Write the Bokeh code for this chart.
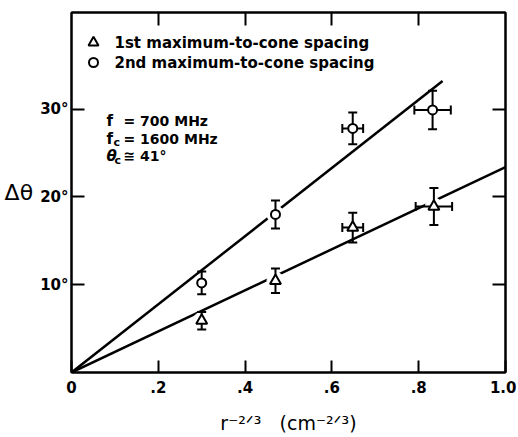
import math
from bokeh.plotting import figure
from bokeh.models import LinearAxis, FixedTicker, CustomJSTickFormatter, Label, Range1d
from bokeh.embed import file_html
from bokeh.resources import INLINE

# ---------------- data ----------------
x_ticks = [0, 0.2, 0.4, 0.6, 0.8, 1.0]
x_tick_labels = ["0", ".2", ".4", ".6", ".8", "1.0"]
y_ticks = [10, 20, 30]
y_tick_labels = ["10°", "20°", "30°"]

first_x = [0.30, 0.47, 0.648, 0.835]
first_y = [5.9, 10.45, 16.5, 18.9]
first_yerr = [1.0, 1.4, 1.7, 2.1]
first_xerr = [0.0, 0.0, 0.024, 0.042]

second_x = [0.30, 0.47, 0.648, 0.832]
second_y = [10.2, 18.0, 27.8, 29.9]
second_yerr = [1.3, 1.6, 1.8, 2.2]
second_xerr = [0.0, 0.0, 0.024, 0.042]

fit1_x = [0.0, 1.0]
fit1_y = [0.0, 23.4]
fit2_x = [0.0, 0.855]
fit2_y = [0.0, 33.2]

legend_labels = ["1st maximum-to-cone spacing", "2nd maximum-to-cone spacing"]
x_title = "r\u207b\u00b2\u141f\u00b3\u00a0\u00a0\u00a0(cm\u207b\u00b2\u141f\u00b3)"
y_title = "Δθ"

# ---------------- layout ----------------
W, H = 516, 436
MARGIN = 0
FRAME_L, FRAME_R, FRAME_T, FRAME_B = 71, 505, 12, 372   # page pixels
X0, X1, Y0, Y1 = 0.0, 1.0, 0.0, 41.0
FONT = "DejaVu Sans"


def px2x(px):
    return X0 + (px - FRAME_L) / (FRAME_R - FRAME_L) * (X1 - X0)


def px2y(py):
    return Y0 + (FRAME_B - py) / (FRAME_B - FRAME_T) * (Y1 - Y0)


p = figure(width=W, height=H, x_range=Range1d(X0, X1), y_range=Range1d(Y0, Y1),
           output_backend="svg", toolbar_location=None,
           min_border_left=FRAME_L - MARGIN, min_border_right=W + MARGIN - FRAME_R,
           min_border_top=FRAME_T - MARGIN, min_border_bottom=H + MARGIN - FRAME_B)
p.grid.visible = False
p.outline_line_color = "black"
p.outline_line_width = 2
p.background_fill_color = "white"
p.border_fill_color = "white"


def style_axis(ax, ticks, tin=13):
    ax.ticker = FixedTicker(ticks=ticks)
    ax.axis_line_width = 2
    ax.axis_line_color = "black"
    ax.major_tick_line_width = 2
    ax.major_tick_line_color = "black"
    ax.major_tick_in = tin
    ax.major_tick_out = 0
    ax.minor_tick_line_color = None
    ax.major_label_text_font = FONT
    ax.major_label_text_font_size = "15px"
    ax.major_label_text_font_style = "bold"
    ax.major_label_text_color = "black"


xa = p.xaxis[0]
style_axis(xa, x_ticks, 12)
xa.major_label_overrides = {t: s for t, s in zip(x_ticks, x_tick_labels)}
xa.major_label_standoff = 8
xa.axis_label = x_title
xa.axis_label_text_font = FONT
xa.axis_label_text_font_size = "19px"
xa.axis_label_text_font_style = "normal"
xa.axis_label_text_color = "black"
xa.axis_label_standoff = 16

ya = p.yaxis[0]
style_axis(ya, y_ticks, 13)
ya.major_label_overrides = {t: s for t, s in zip(y_ticks, y_tick_labels)}
ya.major_label_standoff = 3
ya.axis_label = y_title
ya.axis_label_orientation = "horizontal"
ya.axis_label_text_font = FONT
ya.axis_label_text_font_size = "22px"
ya.axis_label_text_font_style = "normal"
ya.axis_label_text_color = "black"
ya.axis_label_standoff = 4

blank = CustomJSTickFormatter(code="return ''")
top = LinearAxis(formatter=blank, major_label_standoff=0)
style_axis(top, x_ticks[1:-1], 13)
p.add_layout(top, "above")
right = LinearAxis(formatter=CustomJSTickFormatter(code="return ''"), major_label_standoff=0)
style_axis(right, y_ticks, 13)
p.add_layout(right, "right")

# ---------------- fit lines ----------------
p.line(fit1_x, fit1_y, line_color="black", line_width=2.5)
p.line(fit2_x, fit2_y, line_color="black", line_width=2.5)

# white halos producing gaps in the lines
for xs, ys in ((first_x, first_y), (second_x, second_y)):
    p.scatter(xs, ys, marker="circle", size=17, fill_color="white", line_color="white")


# ---------------- error bars ----------------
def errorbars(xs, ys, yerr, xerr):
    lo = [y - e for y, e in zip(ys, yerr)]
    hi = [y + e for y, e in zip(ys, yerr)]
    p.segment(xs, lo, xs, hi, line_color="black", line_width=2)
    p.scatter(xs + xs, lo + hi, marker="dash", size=9, line_color="black", line_width=2)
    hx = [(x, y, e) for x, y, e in zip(xs, ys, xerr) if e > 0]
    if hx:
        by = [h[1] for h in hx]
        l = [h[0] - h[2] for h in hx]
        r = [h[0] + h[2] for h in hx]
        p.segment(l, by, r, by, line_color="black", line_width=2)
        p.scatter(l + r, by + by, marker="dash", size=9, angle=math.pi / 2,
                  line_color="black", line_width=2)


errorbars(first_x, first_y, first_yerr, first_xerr)
errorbars(second_x, second_y, second_yerr, second_xerr)

# ---------------- markers ----------------
p.scatter(first_x, first_y, marker="triangle", size=11, fill_color="white",
          line_color="black", line_width=2)
p.scatter(second_x, second_y, marker="circle", size=9, fill_color="white",
          line_color="black", line_width=2)

# ---------------- legend ----------------
leg_sym_x = px2x(93)
leg_rows = [px2y(42), px2y(62)]
p.scatter([leg_sym_x], [leg_rows[0]], marker="triangle", size=10, fill_color="white",
          line_color="black", line_width=2)
p.scatter([leg_sym_x], [leg_rows[1]], marker="circle", size=9, fill_color="white",
          line_color="black", line_width=2)


def lab(x, y, text, size="15px", align="left", baseline="middle", style="bold"):
    p.add_layout(Label(x=x, y=y, text=text, text_font=FONT, text_font_size=size,
                       text_align=align, text_baseline=baseline,
                       text_font_style=style, text_color="black"))


lab(px2x(114), leg_rows[0], legend_labels[0])
lab(px2x(114), leg_rows[1], legend_labels[1])

# ---------------- parameter annotation ----------------
lab(px2x(106), px2y(120), "f", "15px")
lab(px2x(123), px2y(120), "= 700 MHz", "14px")
lab(px2x(106), px2y(138), "f", "15px")
lab(px2x(113), px2y(142), "c", "11px")
lab(px2x(123), px2y(138), "= 1600 MHz", "14px")
lab(px2x(106), px2y(155), "θ", "15px", style="bold italic")
lab(px2x(114), px2y(160), "c", "11px")
lab(px2x(123), px2y(155), "≅ 41°", "14px")

open("out.html", "w").write(file_html(p, INLINE))
